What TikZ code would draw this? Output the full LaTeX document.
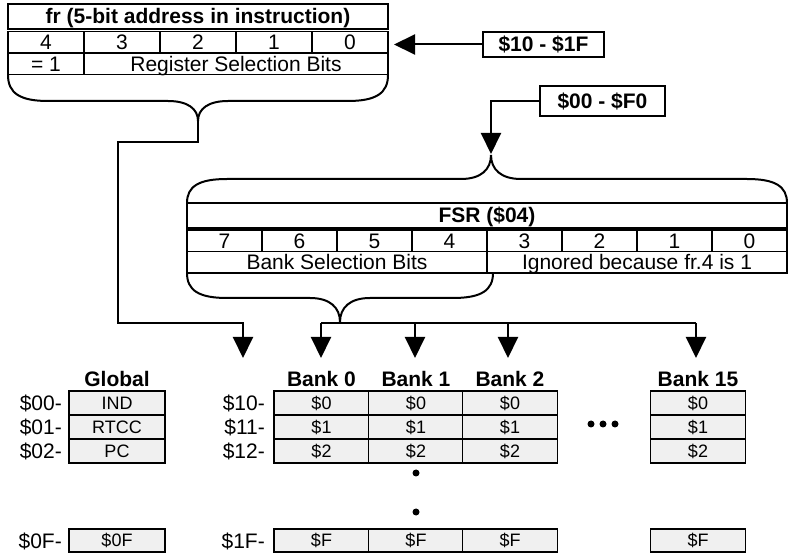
\documentclass[tikz,border=0pt]{standalone}
\usepackage{fontspec}
\setmainfont{Liberation Sans}
\usetikzlibrary{arrows.meta}

% curly brace: left x, tip x, right x, end y, bar y, tip y
\newcommand\bitbrace[6]{%
  \draw[conn] (#1,#4) .. controls (#1,{#4+0.7*(#5-#4)}) and ({#1+12},#5) .. ({#1+40},#5)
    -- ({#2-30},#5) .. controls ({#2-10},#5) and (#2,{#5+0.4*(#6-#5)}) .. (#2,#6)
    .. controls (#2,{#5+0.4*(#6-#5)}) and ({#2+10},#5) .. ({#2+30},#5)
    -- ({#3-40},#5) .. controls ({#3-12},#5) and (#3,{#4+0.7*(#5-#4)}) .. (#3,#4);}

\begin{document}
\begin{tikzpicture}[x=1pt,y=-1pt,
    every node/.style = {inner sep=0pt, align=center},
    bit/.style = {draw, line width=1.5pt, minimum height=21.5pt,
        text height=15pt, text depth=0pt, font=\fontsize{21}{21}\selectfont},
    title/.style = {bit, minimum height=25pt, font=\fontsize{21}{21}\selectfont\bfseries},
    reg/.style = {draw, line width=1.8pt, fill=black!6, minimum width=95pt,
        minimum height=24pt, text height=13pt, text depth=0pt,
        font=\fontsize{18}{18}\selectfont},
    addr/.style = {anchor=east, text height=15pt, text depth=0pt,
        font=\fontsize{21}{21}\selectfont},
    head/.style = {anchor=base, font=\fontsize{21}{21}\selectfont\bfseries},
    rangebox/.style = {draw, line width=1.5pt, font=\fontsize{21}{21}\selectfont\bfseries},
    conn/.style = {line width=2pt},
    arr/.style = {line width=2pt, -{Triangle[length=21pt,width=20pt]}}]
    \useasboundingbox (0,0) rectangle (788,553);

    % fr register
    \node[title, minimum width=380pt] (fr) at (198,16.5) {fr (5-bit address in instruction)};
    \node[bit, minimum width=76pt] (fr4) at (46,42.5) {4};
    \node[bit, minimum width=76pt] (fr3) at (122,42.5) {3};
    \node[bit, minimum width=76pt] (fr2) at (198,42.5) {2};
    \node[bit, minimum width=76pt] (fr1) at (274,42.5) {1};
    \node[bit, minimum width=76pt] (fr0) at (350,42.5) {0};
    \node[bit, minimum width=76pt] (one) at (46,64) {= 1};
    \node[bit, minimum width=304pt] (rsb) at (236,64) {Register Selection Bits};
    \bitbrace{8}{198}{388}{75}{101}{121}

    \node[rangebox, minimum width=121pt, minimum height=25pt] (r10) at (543.5,44.5) {\$10 - \$1F};
    \node[rangebox, minimum width=125pt, minimum height=30pt] (r00) at (602.5,101) {\$00 - \$F0};
    \coordinate (frin) at (394,44.5);
    \coordinate (fsrtip) at (491,154);
    \draw[arr] (r10.west) -- (frin);
    \draw[arr] (r00.west) -| (fsrtip);

    % FSR register
    \bitbrace{187}{491}{787}{203}{179}{155}
    \node[title, minimum width=600pt] (fsr) at (487,215.5) {FSR (\$04)};
    \node[bit, minimum width=75pt] (fsr7) at (224.5,241) {7};
    \node[bit, minimum width=75pt] (fsr6) at (299.5,241) {6};
    \node[bit, minimum width=75pt] (fsr5) at (374.5,241) {5};
    \node[bit, minimum width=75pt] (fsr4) at (449.5,241) {4};
    \node[bit, minimum width=75pt] (fsr3) at (524.5,241) {3};
    \node[bit, minimum width=75pt] (fsr2) at (599.5,241) {2};
    \node[bit, minimum width=75pt] (fsr1) at (674.5,241) {1};
    \node[bit, minimum width=75pt] (fsr0) at (749.5,241) {0};
    \node[bit, minimum width=300pt] (bsb) at (337,262.5) {Bank Selection Bits};
    \node[bit, minimum width=300pt] (ign) at (637,262.5) {Ignored because fr.4 is 1};
    \bitbrace{187}{340}{493}{273}{298}{322}

    % arrows into the banks
    \coordinate (frtip) at (198,121);
    \coordinate (bus) at (0,323);
    \coordinate (a10) at (243,358);
    \coordinate (a0) at (321,358);
    \coordinate (a1) at (415,358);
    \coordinate (a2) at (508,358);
    \coordinate (a15) at (696,358);
    \draw[arr] (frtip) |- (118,142) |- (a10 |- bus) -- (a10);
    \draw[conn] (a0 |- bus) -- (a15 |- bus);
    \foreach \a in {a0,a1,a2,a15}
        \draw[arr] (\a |- bus) -- (\a);

    % global registers
    \node[head] (hg) at (117,387) {Global};
    \node[reg, minimum width=96pt] (g0) at (117,403) {IND};
    \node[reg, minimum width=96pt] (g1) at (117,427) {RTCC};
    \node[reg, minimum width=96pt] (g2) at (117,451) {PC};
    \node[reg, minimum width=96pt, minimum height=23pt] (gf) at (117,540.5) {\$0F};
    \node[addr] (l00) at (62,403) {\$00-};
    \node[addr] (l01) at (62,427) {\$01-};
    \node[addr] (l02) at (62,451) {\$02-};
    \node[addr] (l0f) at (62,540.5) {\$0F-};

    % banked registers
    \node[addr] (l10) at (265,403) {\$10-};
    \node[addr] (l11) at (265,427) {\$11-};
    \node[addr] (l12) at (265,451) {\$12-};
    \node[addr] (l1f) at (265,540.5) {\$1F-};
    \foreach \x/\n in {321.5/0, 416/1, 510/2, 698/15} {
        \node[head] (h\n) at (\x,387) {Bank \n};
        \node[reg] (b\n0) at (\x,403) {\$0};
        \node[reg] (b\n1) at (\x,427) {\$1};
        \node[reg] (b\n2) at (\x,451) {\$2};
        \node[reg, minimum height=23pt] (b\n f) at (\x,540.5) {\$F};
    }
    \fill (416,473) circle[radius=3.5pt];
    \fill (416,512) circle[radius=3.5pt];
    \fill (591,424) circle[radius=3.5pt];
    \fill (603,424) circle[radius=3.5pt];
    \fill (615,424) circle[radius=3.5pt];
\end{tikzpicture}
\end{document}
